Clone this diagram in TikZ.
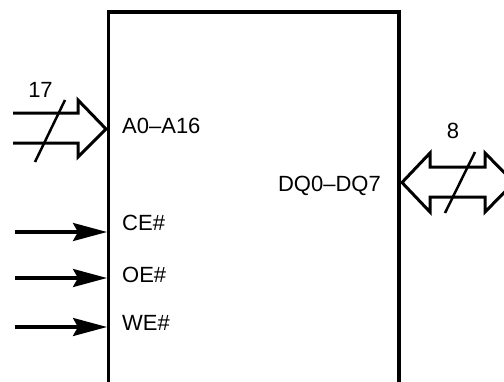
\documentclass[tikz,border=0pt]{standalone}
\usepackage{fontspec}
\setmainfont{Liberation Sans}
\usetikzlibrary{arrows.meta}
\begin{document}
\begin{tikzpicture}[x=1pt,y=-1pt,
  boxline/.style={line width=3.4pt},
  busline/.style={line width=3pt,line join=miter,miter limit=10},
  sigline/.style={line width=3.2pt,-{Stealth[length=34pt,width=18pt,inset=5pt]}},
  slash/.style={line width=2.5pt},
  lbl/.style={inner sep=0pt,font=\fontsize{22}{26}\selectfont}]
\useasboundingbox (0,0) rectangle (504,381);
\clip (0,0) rectangle (504,381);
% chip body (open at bottom)
\coordinate (bl) at (108.5,385);
\coordinate (tl) at (108.5,12);
\coordinate (tr) at (399,12);
\coordinate (br) at (399,385);
\draw[boxline,line join=miter] (bl) -- (tl) -- (tr) -- (br);
% address bus
\draw[busline] (13,113) -- (78,113) -- (78,100) -- (106,129) -- (78,157) -- (78,143) -- (13,143);
\coordinate (as1) at (65,100);
\coordinate (as2) at (35,162);
\draw[slash] (as1) -- (as2);
\node[lbl,anchor=base] (n17) at (40.5,97) {17};
% data bus
\draw[busline] (430,167) -- (485,167) -- (485,153) -- (514,182.5) -- (485,212) -- (485,197) -- (430,197) -- (430,212) -- (402,182.5) -- (430,153) -- cycle;
\coordinate (ds1) at (475,152);
\coordinate (ds2) at (445,213);
\draw[slash] (ds1) -- (ds2);
\node[lbl,anchor=base] (n8) at (453,138) {8};
% labels
\node[lbl,anchor=base west] (addr) at (122,133) {A0–A16};
\node[lbl,anchor=base east] (dq) at (381,191) {DQ0–DQ7};
\node[lbl,anchor=base west] (ce) at (122,230) {CE\#};
\node[lbl,anchor=base west] (oe) at (122,282) {OE\#};
\node[lbl,anchor=base west] (we) at (122,330) {WE\#};
% control signals
\coordinate (ce0) at (15,232);
\coordinate (ce1) at (107,232);
\coordinate (oe0) at (15,278);
\coordinate (oe1) at (107,278);
\coordinate (we0) at (15,327);
\coordinate (we1) at (107,327);
\draw[sigline] (ce0) -- (ce1);
\draw[sigline] (oe0) -- (oe1);
\draw[sigline] (we0) -- (we1);
\end{tikzpicture}
\end{document}
